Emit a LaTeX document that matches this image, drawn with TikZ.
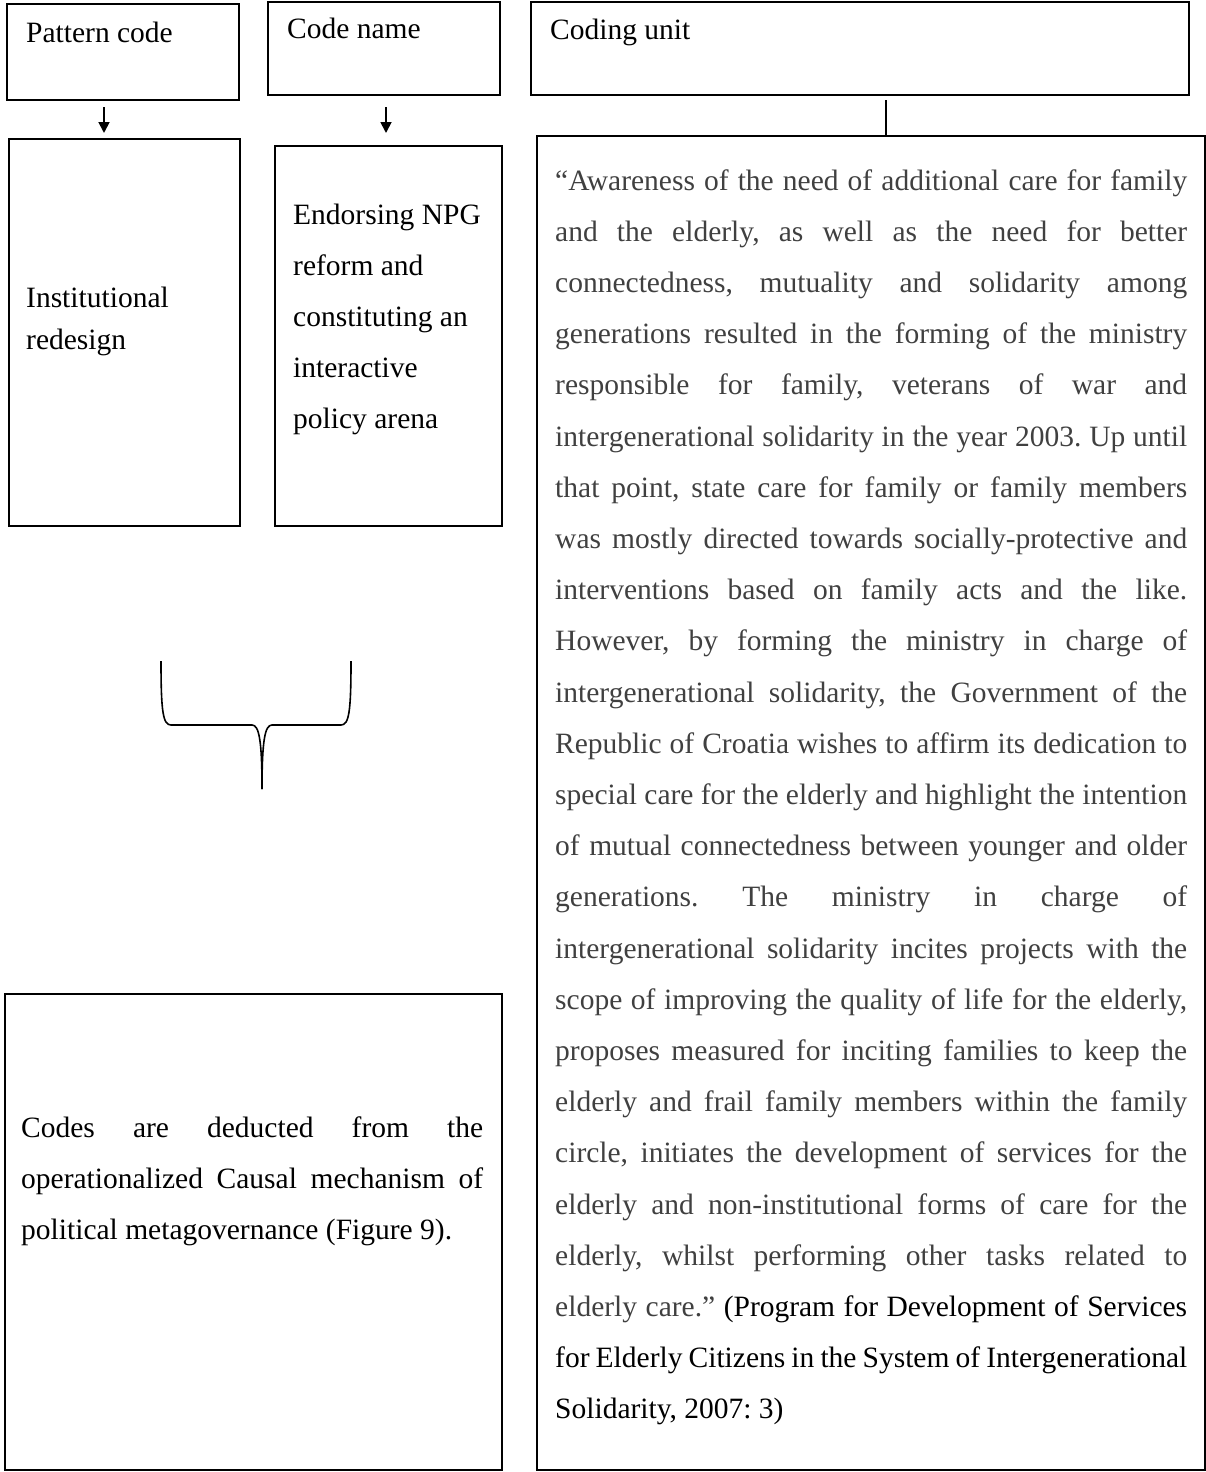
\documentclass[tikz,border=0pt]{standalone}
\usepackage{fontspec}
\setmainfont{Liberation Serif}
\usetikzlibrary{arrows.meta,calc}
\definecolor{quotegray}{HTML}{404040}
\tikzset{
  box/.style={draw=black, line width=2pt, anchor=north west, inner sep=0pt},
  lbl/.style={anchor=base west, inner sep=0pt, font=\fontsize{29.5}{51.2}\selectfont},
  arr/.style={line width=1.8pt, -{Triangle[width=11pt,length=11pt]}},
  conn/.style={line width=2pt},
  bracepath/.style={line width=1.6pt}
}
\begin{document}
\begin{tikzpicture}[x=1pt,y=-1pt]
\useasboundingbox (0,0) rectangle (1205,1472);
% boxes
\node[box, minimum width=232pt, minimum height=96pt] (pc) at (6,3) {};
\node[box, minimum width=232pt, minimum height=93pt] (cn) at (267,1) {};
\node[box, minimum width=658pt, minimum height=93pt] (cu) at (530,1) {};
\node[box, minimum width=231pt, minimum height=387pt] (ir) at (8,138) {};
\node[box, minimum width=227pt, minimum height=380pt] (cd) at (274,145) {};
\node[box, minimum width=668pt, minimum height=1334pt] (qt) at (536,135) {};
\node[box, minimum width=497pt, minimum height=476pt] (nt) at (4,993) {};
% connectors
\draw[arr] ($(pc.south west)+(98,6)$) -- ($(ir.north west)+(96,-5)$);
\draw[arr] ($(cn.south west)+(119,11)$) -- ($(cd.north west)+(112,-12)$);
\draw[conn] ($(cu.south west)+(356,4)$) -- ($(qt.north west)+(350,0)$);
% brace
\draw[bracepath] (161,661) .. controls (161,712) and (163,725) .. (171,725) -- (252,725)
  .. controls (259,725) and (262,740) .. (262,789);
\draw[bracepath] (351,661) .. controls (351,712) and (349,725) .. (341,725) -- (272,725)
  .. controls (265,725) and (262,740) .. (262,789);
% labels
\node[lbl] (tpc) at (26,43) {Pattern code};
\node[lbl] (tcn) at (287,39) {Code name};
\node[lbl] (tcu) at (550,40) {Coding unit};
\node[anchor=base west, inner sep=0pt] (tir) at (26,307) {\vtop{\fontsize{29.5}{42.5}\selectfont
  \hbox{Institutional}
  \hbox{redesign}}};
\node[anchor=base west, inner sep=0pt] (tcd) at (293,224) {\vtop{\fontsize{29.5}{51.2}\selectfont
  \hbox{Endorsing NPG}
  \hbox{reform and}
  \hbox{constituting an}
  \hbox{interactive}
  \hbox{policy arena}}};
\node[anchor=base west, inner sep=0pt] (tnt) at (21,1137) {\vtop{\fontsize{29.5}{51.2}\selectfont\frenchspacing
  \hbox to 462pt{Codes are deducted from the}
  \hbox to 462pt{operationalized Causal mechanism of}
  \hbox{political metagovernance (Figure 9).}}};
\node[anchor=base west, inner sep=0pt, text=quotegray] (tqt) at (555,190) {\vtop{\fontsize{29.5}{51.2}\selectfont\frenchspacing
  \hbox to 632pt{“Awareness of the need of additional care for family}
  \hbox to 632pt{and the elderly, as well as the need for better}
  \hbox to 632pt{connectedness, mutuality and solidarity among}
  \hbox to 632pt{generations resulted in the forming of the ministry}
  \hbox to 632pt{responsible for family, veterans of war and}
  \hbox to 632pt{intergenerational solidarity in the year 2003. Up until}
  \hbox to 632pt{that point, state care for family or family members}
  \hbox to 632pt{was mostly directed towards socially-protective and}
  \hbox to 632pt{interventions based on family acts and the like.}
  \hbox to 632pt{However, by forming the ministry in charge of}
  \hbox to 632pt{intergenerational solidarity, the Government of the}
  \hbox to 632pt{Republic of Croatia wishes to affirm its dedication to}
  \hbox to 632pt{special care for the elderly and highlight the intention}
  \hbox to 632pt{of mutual connectedness between younger and older}
  \hbox to 632pt{generations. The ministry in charge of}
  \hbox to 632pt{intergenerational solidarity incites projects with the}
  \hbox to 632pt{scope of improving the quality of life for the elderly,}
  \hbox to 632pt{proposes measured for inciting families to keep the}
  \hbox to 632pt{elderly and frail family members within the family}
  \hbox to 632pt{circle, initiates the development of services for the}
  \hbox to 632pt{elderly and non-institutional forms of care for the}
  \hbox to 632pt{elderly, whilst performing other tasks related to}
  \hbox to 632pt{elderly care.” \color{black}(Program for Development of Services}
  \hbox to 632pt{\color{black}for Elderly Citizens in the System of Intergenerational}
  \hbox{\color{black}Solidarity, 2007: 3)}}};
\end{tikzpicture}
\end{document}
